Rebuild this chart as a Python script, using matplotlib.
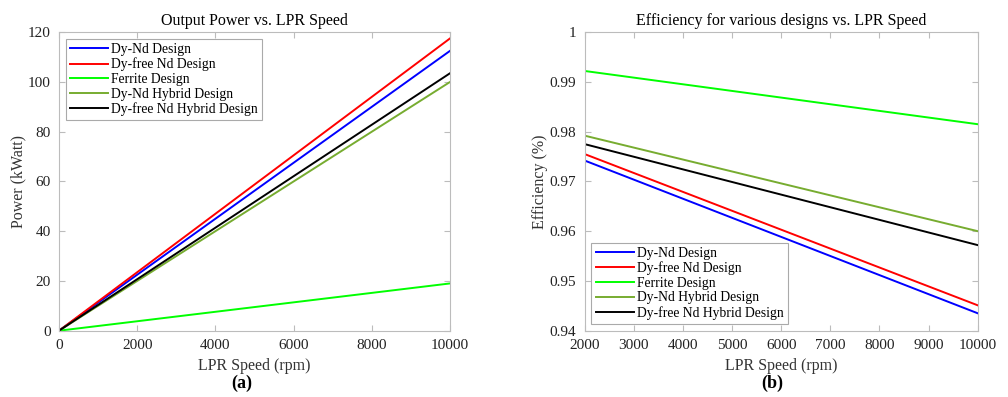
import matplotlib
matplotlib.use("Agg")
import matplotlib.pyplot as plt

designs = ["Dy-Nd Design", "Dy-free Nd Design", "Ferrite Design",
           "Dy-Nd Hybrid Design", "Dy-free Nd Hybrid Design"]
colors = ["#0000ff", "#ff0000", "#00ff00", "#77ac30", "#000000"]

# output power (kWatt) at 0 and 10000 rpm
power_speed = [0, 10000]
power = [
    [0, 112.5],
    [0, 117.5],
    [0, 19.0],
    [0, 100.0],
    [0, 103.5],
]

# efficiency at 2000 and 10000 rpm
eff_speed = [2000, 10000]
efficiency = [
    [0.9742, 0.9435],
    [0.9755, 0.9451],
    [0.9922, 0.9815],
    [0.9792, 0.9600],
    [0.9775, 0.9572],
]

plt.rcParams["font.family"] = ["Liberation Serif", "DejaVu Serif"]
plt.rcParams["font.size"] = 10.5

fig = plt.figure(figsize=(10.08, 3.97), dpi=100)
ax1 = fig.add_axes([0.0585, 0.167, 0.388, 0.752])
ax2 = fig.add_axes([0.580, 0.167, 0.390, 0.752])


def style(ax):
    for s in ax.spines.values():
        s.set_color("#bcbcbc")
        s.set_linewidth(0.8)
    ax.tick_params(direction="in", top=True, right=True, length=4, pad=6,
                   color="#bcbcbc", labelcolor="#222222", labelsize=11)


def add_legend(ax, loc):
    leg = ax.legend(loc=loc, fontsize=9.8, handlelength=2.8,
                    handletextpad=0.25, borderaxespad=0.5, labelspacing=0.12,
                    borderpad=0.3, fancybox=False, framealpha=1)
    leg.get_frame().set_edgecolor("#aaaaaa")
    leg.get_frame().set_linewidth(0.8)


for name, c, ys in zip(designs, colors, power):
    ax1.plot(power_speed, ys, color=c, lw=1.4, label=name)
ax1.set_xlim(0, 10000)
ax1.set_ylim(0, 120)
ax1.set_xticks(range(0, 10001, 2000))
ax1.set_yticks(range(0, 121, 20))
ax1.set_xlabel("LPR Speed (rpm)", color="#333333", labelpad=4, fontsize=11.5)
ax1.set_ylabel("Power (kWatt)", color="#333333", labelpad=1, fontsize=11.5)
ax1.set_title("Output Power vs. LPR Speed", pad=5, fontsize=11.5)
style(ax1)
add_legend(ax1, "upper left")

for name, c, ys in zip(designs, colors, efficiency):
    ax2.plot(eff_speed, ys, color=c, lw=1.4, label=name)
ax2.set_xlim(2000, 10000)
ax2.set_ylim(0.94, 1.0)
ax2.set_xticks(range(2000, 10001, 1000))
ax2.set_yticks([0.94, 0.95, 0.96, 0.97, 0.98, 0.99, 1.0])
ax2.set_yticklabels(["0.94", "0.95", "0.96", "0.97", "0.98", "0.99", "1"])
ax2.set_xlabel("LPR Speed (rpm)", color="#333333", labelpad=4, fontsize=11.5)
ax2.set_ylabel("Efficiency (%)", color="#333333", labelpad=1, fontsize=11.5)
ax2.set_title("Efficiency for various designs vs. LPR Speed", pad=5,
              fontsize=11.5)
style(ax2)
add_legend(ax2, "lower left")

fig.text(0.240, 0.035, "(a)", ha="center", va="center", fontsize=13,
         fontweight="bold")
fig.text(0.766, 0.035, "(b)", ha="center", va="center", fontsize=13,
         fontweight="bold")

fig.savefig("out.png", dpi=100)
